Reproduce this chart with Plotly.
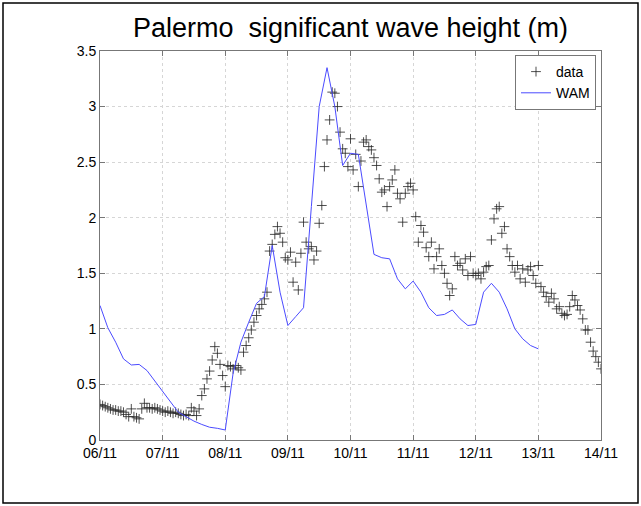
import plotly.graph_objects as go
import pandas as pd

# WAM model significant wave height, 3-hourly from 06/11 00:00
wam_hs = [1.21, 1.01, 0.88, 0.73, 0.675, 0.68, 0.625, 0.53,
          0.44, 0.34, 0.25, 0.21, 0.17, 0.14, 0.115, 0.105,
          0.09, 0.60, 0.88, 1.06, 1.23, 1.29, 1.75, 1.33,
          1.03, 1.11, 1.19, 2.10, 3.00, 3.35, 3.00, 2.47,
          2.58, 2.57, 2.12, 1.67, 1.64, 1.63, 1.45, 1.36,
          1.43, 1.33, 1.19, 1.12, 1.13, 1.17, 1.09, 1.03,
          1.04, 1.33, 1.41, 1.33, 1.18, 1.00, 0.91, 0.85,
          0.82]

# Buoy data, hourly, one list per day
hs_0611 = [0.32, 0.31, 0.30, 0.29, 0.28, 0.27, 0.27, 0.26, 0.26, 0.25, 0.23, 0.21,
           0.28, 0.21, 0.20, 0.19, 0.28, 0.33, 0.29, 0.29, 0.28, 0.29, 0.28, 0.27]
hs_0711 = [0.26, 0.25, 0.26, 0.25, 0.24, 0.25, 0.24, 0.23, 0.22, 0.23, 0.22, 0.29,
           0.26, 0.22, 0.28, 0.40, 0.46, 0.55, 0.62, 0.72, 0.84, 0.78, 0.68, 0.58]
hs_0811 = [0.48, 0.67, 0.66, 0.64, 0.67, 0.65, 0.63, 0.79, 0.85, 0.92, 0.99, 1.06,
           1.12, 1.18, 1.22, 1.27, 1.33, 1.70, 1.76, 1.85, 1.92, 1.86, 1.78, 1.64]
hs_0911 = [1.62, 1.69, 1.42, 1.60, 1.35, 1.68, 1.96, 1.78, 1.72, 1.74, 1.62, 1.70,
           1.95, 2.11, 2.46, 2.70, 2.88, 3.13, 3.12, 3.00, 2.77, 2.62, 2.58, 2.46]
hs_1011 = [2.71, 2.43, 2.57, 2.28, 2.51, 2.68, 2.70, 2.64, 2.61, 2.54, 2.47, 2.35,
           2.23, 2.25, 2.10, 2.28, 2.34, 2.43, 2.22, 2.17, 1.96, 2.22, 2.28, 2.31]
hs_1111 = [2.25, 2.01, 1.78, 1.93, 1.87, 1.73, 1.65, 1.78, 1.54, 1.65, 1.72, 1.57,
           1.50, 1.41, 1.30, 1.36, 1.65, 1.57, 1.59, 1.53, 1.63, 1.48, 1.65, 1.50]
hs_1211 = [1.48, 1.50, 1.45, 1.51, 1.56, 1.57, 1.80, 1.99, 2.08, 2.10, 1.86, 1.92,
           1.72, 1.65, 1.57, 1.51, 1.57, 1.45, 1.54, 1.42, 1.53, 1.56, 1.48, 1.41]
hs_1311 = [1.57, 1.38, 1.33, 1.29, 1.24, 1.32, 1.27, 1.18, 1.20, 1.14, 1.12, 1.13,
           1.20, 1.30, 1.26, 1.21, 1.17, 1.09, 0.99, 0.99, 0.88, 0.80, 0.75, 0.70]
hs_1411 = [0.64]

tick_dates = ["2012-11-06", "2012-11-07", "2012-11-08", "2012-11-09", "2012-11-10",
              "2012-11-11", "2012-11-12", "2012-11-13", "2012-11-14"]
tick_labels = ["06/11", "07/11", "08/11", "09/11", "10/11", "11/11", "12/11", "13/11", "14/11"]
y_ticks = [0, 0.5, 1, 1.5, 2, 2.5, 3, 3.5]

data_hs = hs_0611 + hs_0711 + hs_0811 + hs_0911 + hs_1011 + hs_1111 + hs_1211 + hs_1311 + hs_1411
data_time = pd.date_range("2012-11-06 00:00", periods=len(data_hs), freq="h")
wam_time = pd.date_range("2012-11-06 00:00", periods=len(wam_hs), freq="3h")

W, H = 641, 506
ML, MR, MT, MB = 100, 40, 51, 66
pw, ph = W - ML - MR, H - MT - MB


def px_x(p):
    return (p - ML) / pw


def px_y(p):
    return (H - MB - p) / ph


mark_col = "rgba(35,35,35,0.8)"
fig = go.Figure()
fig.add_trace(go.Scatter(
    x=data_time, y=data_hs, mode="markers", name="data",
    marker=dict(symbol="cross-thin-open", size=7, color=mark_col,
                line=dict(width=1, color=mark_col))))
fig.add_trace(go.Scatter(
    x=wam_time, y=wam_hs, mode="lines", name="WAM",
    line=dict(color="rgb(75,75,255)", width=1)))

axis_common = dict(showgrid=True, gridcolor="#d6d6d6", griddash="dot", gridwidth=1,
                   showline=True, linecolor="#777777", linewidth=1, mirror="ticks",
                   ticks="inside", ticklen=5, tickcolor="#777777", zeroline=False,
                   tickfont=dict(size=14, color="black"))

fig.update_layout(
    width=W, height=H,
    margin=dict(l=ML, r=MR, t=MT, b=MB),
    paper_bgcolor="white", plot_bgcolor="white",
    font=dict(family="Liberation Sans, Arial, sans-serif", size=14, color="black"),
    title=dict(text="Palermo\u00a0 significant wave height (m)", font=dict(size=27, color="black"),
               x=0.5, xref="paper", xanchor="center",
               y=1 - 28 / H, yref="container", yanchor="middle"),
    xaxis=dict(range=[tick_dates[0], tick_dates[-1]], tickvals=tick_dates, ticktext=tick_labels,
               **axis_common),
    yaxis=dict(range=[0, 3.5], tickvals=y_ticks, ticktext=[f"{v:g}" for v in y_ticks],
               **axis_common),
    legend=dict(x=px_x(596), xanchor="right", y=px_y(55), yanchor="top",
                bordercolor="#777777", borderwidth=1, bgcolor="white",
                font=dict(size=14, color="black"), tracegroupgap=0),
    showlegend=True,
    shapes=[dict(type="rect", xref="paper", yref="paper",
                 x0=px_x(3), x1=px_x(638), y0=px_y(503), y1=px_y(3),
                 line=dict(color="black", width=1.5), fillcolor="rgba(0,0,0,0)", layer="above")],
)

fig.write_html("out.html",
               config=dict(displayModeBar=False),
               post_script="document.body.style.margin='0';"
                           "document.documentElement.style.overflow='hidden';"
                           "document.body.style.overflow='hidden';")
